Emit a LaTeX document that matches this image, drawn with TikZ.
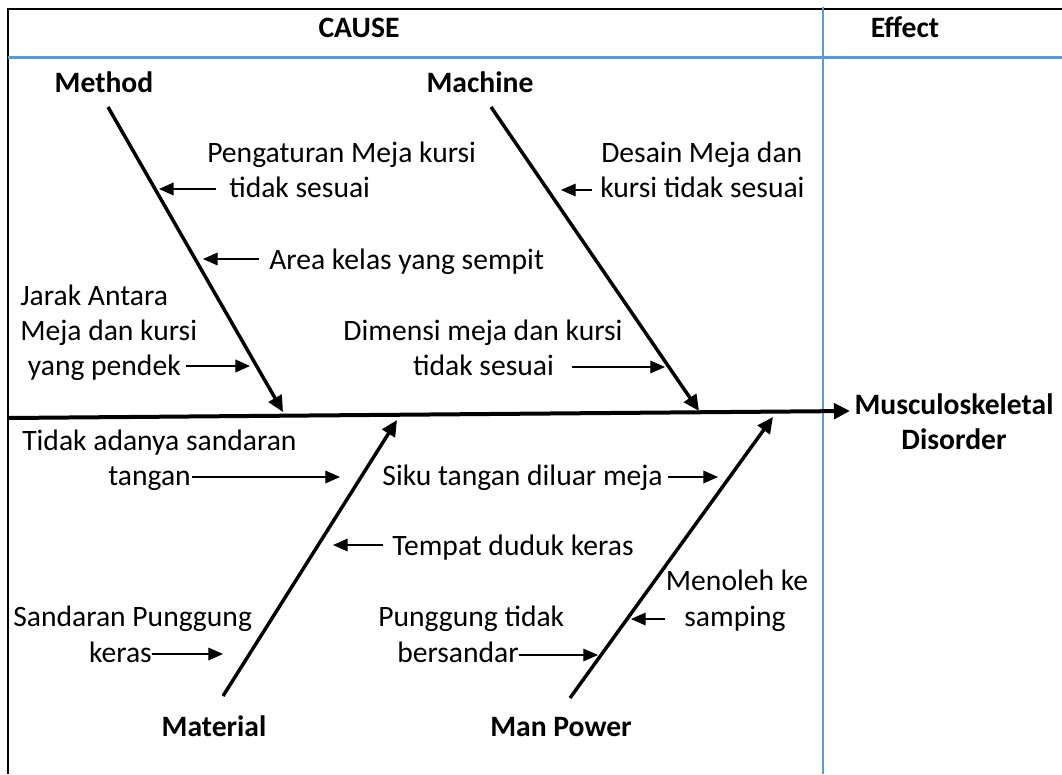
\documentclass[tikz,border=0pt]{standalone}
\usepackage{fontspec}
\setmainfont{Carlito}
\usetikzlibrary{arrows.meta}
\definecolor{wordblue}{RGB}{91,155,213}
\begin{document}
\begin{tikzpicture}[x=0.75pt,y=-0.75pt,
  lbl/.style={inner sep=0pt, font=\fontsize{22.2}{26.3}\selectfont},
  head/.style={inner sep=0pt, font=\fontsize{22.2}{26.3}\selectfont\bfseries},
  bone/.style={line width=2.6pt, -{Triangle[length=12pt,width=11pt]}},
  spine/.style={line width=3pt, -{Triangle[length=12pt,width=11.5pt]}},
  sub/.style={line width=0.9pt, -{Triangle[length=11pt,width=9.5pt]}},
  subthick/.style={line width=1.4pt, -{Triangle[length=11pt,width=9.5pt]}},
  frame/.style={line width=1.5pt, black},
  bluev/.style={line width=0.9pt, wordblue},
  blueh/.style={line width=2.2pt, wordblue}]
\useasboundingbox (0,0) rectangle (1062,774);
% table frame
\draw[frame] (8,774) -- (8,9) -- (1062,9);
\draw[bluev] (823,7) -- (823,774);
\draw[blueh] (8,57.5) -- (1062,57.5);
% headers
\node[head, anchor=base] (cause) at (359,38) {CAUSE};
\node[head, anchor=base] (effecthd) at (905,38) {Effect};
% category labels
\node[head, anchor=base] (method) at (104,92) {Method};
\node[head, anchor=base] (machine) at (480,92) {Machine};
\node[head, anchor=base] (material) at (214,736) {Material};
\node[head, anchor=base] (manpower) at (561,736) {Man Power};
% effect
\node[head, align=center] (effect) at (954,422) {Musculoskeletal\\Disorder};
% spine
\coordinate (sp0) at (8,418);
\coordinate (sp1) at (850,411);
\draw[spine] (sp0) -- (sp1);
% bones
\coordinate (mt) at (108,107);  \coordinate (mb) at (283,412);
\coordinate (ct) at (491,107);  \coordinate (cb) at (699,411);
\coordinate (at) at (223,696);  \coordinate (ab) at (397,420);
\coordinate (pt) at (570,698);  \coordinate (pb) at (773,417);
\draw[bone] (mt) -- (mb);
\draw[bone] (ct) -- (cb);
\draw[bone] (at) -- (ab);
\draw[bone] (pt) -- (pb);
% Method causes
\node[lbl, anchor=base west] (m1a) at (207,162) {Pengaturan Meja kursi};
\node[lbl, anchor=base west] (m1b) at (229,197) {tidak sesuai};
\node[lbl, anchor=base west] (m2) at (269,269) {Area kelas yang sempit};
\node[lbl, anchor=base west] (m3a) at (20,305) {Jarak Antara};
\node[lbl, anchor=base west] (m3b) at (20,340) {Meja dan kursi};
\node[lbl, anchor=base east] (m3c) at (181,375) {yang pendek};
\coordinate (s1) at (216,189); \coordinate (t1) at (159,189);
\coordinate (s2) at (259,259); \coordinate (t2) at (203,259);
\coordinate (s3) at (186,366); \coordinate (t3) at (250,366);
\draw[subthick] (s1) -- (t1);
\draw[sub] (s2) -- (t2);
\draw[subthick] (s3) -- (t3);
% Machine causes
\node[lbl, anchor=base west] (c1a) at (601,162) {Desain Meja dan};
\node[lbl, anchor=base west] (c1b) at (600,197) {kursi tidak sesuai};
\node[lbl, anchor=base] (c2a) at (483,340) {Dimensi meja dan kursi};
\node[lbl, anchor=base] (c2b) at (483.5,375) {tidak sesuai};
\coordinate (s4) at (592,190); \coordinate (t4) at (561,190);
\coordinate (s5) at (572,367); \coordinate (t5) at (665,367);
\draw[sub] (s4) -- (t4);
\draw[sub] (s5) -- (t5);
% Material causes
\node[lbl, anchor=base west] (a1a) at (22,450) {Tidak adanya sandaran};
\node[lbl, anchor=base east] (a1b) at (191,485) {tangan};
\node[lbl, anchor=base west] (a2) at (392,555) {Tempat duduk keras};
\node[lbl, anchor=base west] (a3a) at (13,626) {Sandaran Punggung};
\node[lbl, anchor=base east] (a3b) at (152,662) {keras};
\coordinate (s6) at (192,477); \coordinate (t6) at (340,477);
\coordinate (s7) at (383,545); \coordinate (t7) at (333,545);
\coordinate (s8) at (152,654); \coordinate (t8) at (223,654);
\draw[sub] (s6) -- (t6);
\draw[sub] (s7) -- (t7);
\draw[sub] (s8) -- (t8);
% Man Power causes
\node[lbl, anchor=base east] (p1) at (663,485) {Siku tangan diluar meja};
\node[lbl, anchor=base] (p2a) at (737,590) {Menoleh ke};
\node[lbl, anchor=base] (p2b) at (735,626) {samping};
\node[lbl, anchor=base west] (p3a) at (378,626) {Punggung tidak};
\node[lbl, anchor=base east] (p3b) at (519,662) {bersandar};
\coordinate (s9) at (668,477); \coordinate (t9) at (718,477);
\coordinate (s10) at (665,619); \coordinate (t10) at (631,619);
\coordinate (s11) at (519,655); \coordinate (t11) at (598,655);
\draw[sub] (s9) -- (t9);
\draw[sub] (s10) -- (t10);
\draw[sub] (s11) -- (t11);
\end{tikzpicture}
\end{document}
